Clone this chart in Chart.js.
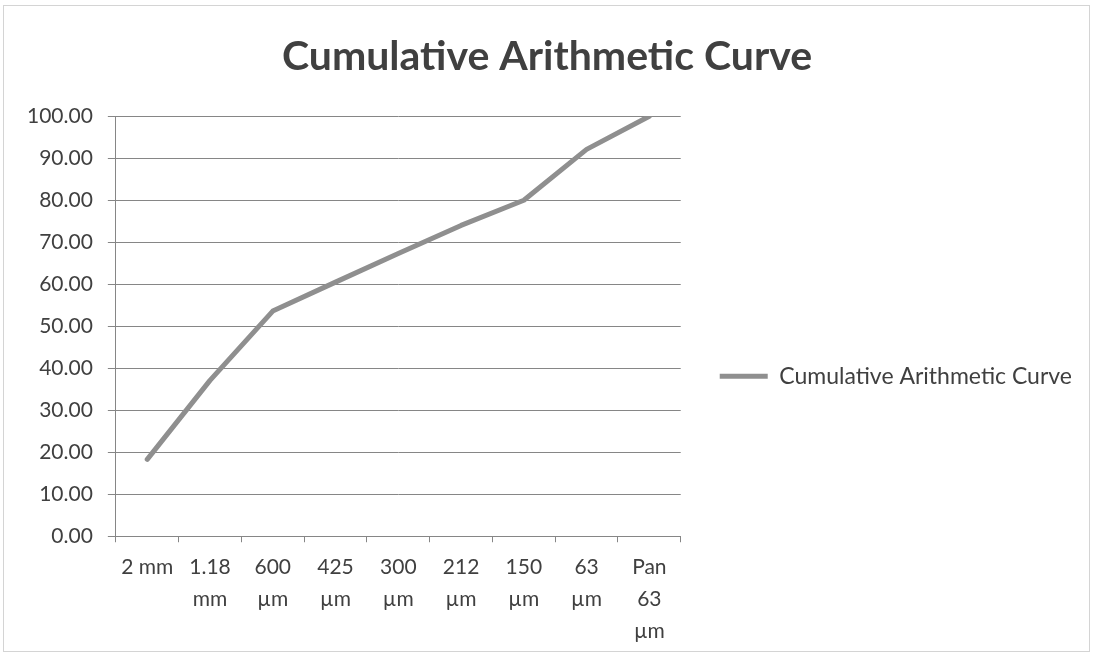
<!DOCTYPE html>
<html>
<head>
<meta charset="utf-8">
<script src="https://cdn.jsdelivr.net/npm/chart.js@4/dist/chart.umd.min.js"></script>
<style>
  html, body { margin: 0; padding: 0; background: #ffffff; }
  #wrap { position: relative; width: 1093px; height: 656px; }
</style>
</head>
<body>
<div id="wrap"><canvas id="chart" width="1093" height="656"></canvas></div>
<script>
// Sieve sizes (wrapped onto several lines like the axis shows them)
const sieveSizes = [
  '2 mm',
  ['1.18', 'mm'],
  ['600', 'µm'],
  ['425', 'µm'],
  ['300', 'µm'],
  ['212', 'µm'],
  ['150', 'µm'],
  ['63', 'µm'],
  ['Pan', '63', 'µm']
];

// Cumulative percentage for each sieve
const cumulativePercent = [18.3, 37.1, 53.6, 60.5, 67.3, 74.0, 80.0, 92.1, 100.0];

const seriesName = 'Cumulative Arithmetic Curve';
const chartTitle = 'Cumulative Arithmetic Curve';

const yMin = 0;
const yMax = 100;
const yStep = 10;

const textColor = '#404040';
const gridColor = '#868686';
const lineColor = '#8f8f8f';
const fontFamily = 'Lato, "Open Sans", sans-serif';

// Thin frame round the whole chart
const framePlugin = {
  id: 'frame',
  beforeDraw(chart) {
    const ctx = chart.ctx;
    ctx.save();
    ctx.fillStyle = '#ffffff';
    ctx.fillRect(0, 0, chart.width, chart.height);
    ctx.strokeStyle = '#d4d4d4';
    ctx.lineWidth = 1;
    ctx.strokeRect(3.5, 5.5, chart.width - 7, chart.height - 10);
    ctx.restore();
  }
};

new Chart(document.getElementById('chart'), {
  type: 'line',
  data: {
    labels: sieveSizes,
    datasets: [{
      label: seriesName,
      data: cumulativePercent,
      borderColor: lineColor,
      backgroundColor: lineColor,
      borderWidth: 5,
      pointRadius: 0,
      pointHoverRadius: 0,
      tension: 0,
      fill: false,
      borderJoinStyle: 'round',
      borderCapStyle: 'round'
    }]
  },
  options: {
    responsive: false,
    animation: false,
    devicePixelRatio: 1,
    layout: { padding: { left: 12, right: 11, top: 0, bottom: 0 } },
    plugins: {
      title: {
        display: true,
        text: chartTitle,
        color: textColor,
        font: { family: fontFamily, size: 41, weight: 'bold' },
        padding: { top: 32, bottom: 35 }
      },
      legend: {
        display: true,
        position: 'right',
        maxWidth: 440,
        title: {
          display: true,
          text: '',
          font: { size: 12 },
          padding: { top: 0, bottom: 82 }
        },
        labels: {
          color: textColor,
          font: { family: fontFamily, size: 23 },
          usePointStyle: true,
          pointStyle: 'line',
          pointStyleWidth: 48,
          boxHeight: 23,
          padding: 39
        }
      },
      tooltip: { enabled: false }
    },
    scales: {
      x: {
        type: 'category',
        offset: true,
        grid: {
          display: true,
          offset: true,
          drawOnChartArea: false,
          drawTicks: true,
          tickLength: 6,
          color: gridColor,
          lineWidth: 1
        },
        border: { display: true, color: gridColor, width: 1 },
        ticks: {
          color: textColor,
          font: { family: fontFamily, size: 21, lineHeight: 1.52 },
          padding: 9,
          maxRotation: 0,
          autoSkip: false
        }
      },
      y: {
        min: yMin,
        max: yMax,
        grid: {
          display: true,
          color: gridColor,
          lineWidth: 1,
          drawTicks: true,
          tickLength: 8
        },
        border: { display: true, color: gridColor, width: 1 },
        ticks: {
          stepSize: yStep,
          color: textColor,
          font: { family: fontFamily, size: 21 },
          padding: 15,
          callback: (v) => Number(v).toFixed(2)
        }
      }
    }
  },
  plugins: [framePlugin]
});
</script>
</body>
</html>
